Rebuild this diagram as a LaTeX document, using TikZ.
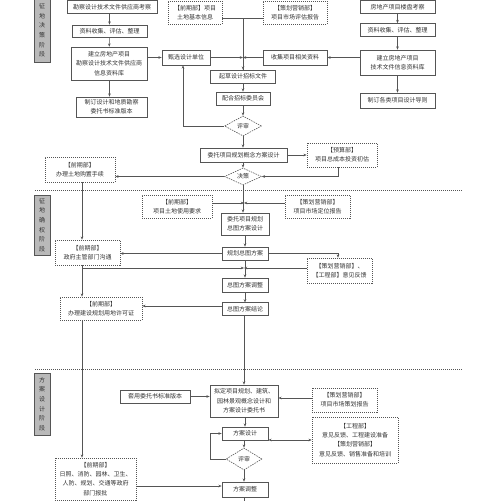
\documentclass[tikz,border=0pt]{standalone}
\usepackage{fontspec}
\setmainfont{Noto Sans CJK SC}
\usetikzlibrary{arrows.meta,shapes.geometric}
\definecolor{ln}{HTML}{555555}
\definecolor{tx}{HTML}{333333}
\tikzset{
  base/.style={font=\fontsize{6}{9.3}\selectfont, text=tx, align=center, inner sep=0pt},
  sbox/.style={base, draw=ln, line width=0.7pt, fill=white},
  dbox/.style={base, draw=ln, line width=0.6pt, dash pattern=on 1pt off 1pt, fill=white},
  gbox/.style={base, draw=ln, line width=0.7pt, fill=gray!55, minimum width=16pt, font=\fontsize{6}{9.6}\selectfont},
  dia/.style={base, diamond, draw=ln, line width=0.6pt, dash pattern=on 1.5pt off 1pt, aspect=2, fill=white},
  arr/.style={draw=ln, line width=0.6pt, -{Stealth[length=3.2pt,width=2.6pt]}},
  ln/.style={draw=ln, line width=0.6pt},
  sep/.style={draw=ln, line width=0.8pt, dash pattern=on 1pt off 1pt},
}
\begin{document}
\begin{tikzpicture}[x=1pt,y=-1pt]
\useasboundingbox (0,0) rectangle (500,501);
% stage boxes
\node[gbox, minimum height=63pt] (g1) at (42,30.5) {征\\地\\决\\策\\阶\\段};
\node[gbox, minimum height=60pt] (g2) at (42,225) {征\\地\\确\\权\\阶\\段};
\node[gbox, minimum height=62pt] (g3) at (42,404) {方\\案\\设\\计\\阶\\段};
% separators
\coordinate (s1a) at (35,190); \coordinate (s1b) at (462,190);
\coordinate (s2a) at (35,369); \coordinate (s2b) at (462,369);
\draw[sep] (s1a) -- (s1b);
\draw[sep] (s2a) -- (s2b);
% left column top
\node[sbox, minimum width=90pt, minimum height=13pt] (a1) at (112,7) {勘察设计技术文件供应商考察};
\node[sbox, minimum width=75pt, minimum height=12pt] (a2) at (109.5,31) {资料收集、评估、整理};
\node[sbox, minimum width=76pt, minimum height=33pt] (a3) at (109,63.5) {建立房地产项目\\勘察设计技术文件供应商\\信息资料库};
\node[sbox, minimum width=71pt, minimum height=20pt] (a4) at (111.5,107) {制订设计和地质勘察\\委托书标准版本};
% right column top
\node[sbox, minimum width=75pt, minimum height=13pt] (b1) at (397.5,7) {房地产项目楼盘考察};
\node[sbox, minimum width=75pt, minimum height=13pt] (b2) at (397.5,30) {资料收集、评估、整理};
\node[sbox, minimum width=75pt, minimum height=25pt] (b3) at (397.5,62.5) {建立房地产项目\\技术文件信息资料库};
\node[sbox, minimum width=75pt, minimum height=15pt] (b4) at (397.5,100.5) {制订各类项目设计导则};
% centre top
\node[dbox, minimum width=54pt, minimum height=23pt] (d1) at (195,12.5) {【前期部】项目\\土地基本信息};
\node[dbox, minimum width=64pt, minimum height=23pt] (d2) at (295,12.5) {【策划营销部】\\项目市场评估报告};
\node[sbox, minimum width=48pt, minimum height=15pt] (c1) at (186,57.5) {甄选设计单位};
\node[sbox, minimum width=64pt, minimum height=15pt] (c2) at (295,57.5) {收集项目相关资料};
\node[sbox, minimum width=65pt, minimum height=13pt] (c3) at (243,76.5) {起草设计招标文件};
\node[sbox, minimum width=54pt, minimum height=13pt] (c4) at (243,98.5) {配合招标委员会};
\node[dia, minimum width=37pt, minimum height=20pt] (m1) at (243,126) {评审};
\node[sbox, minimum width=87pt, minimum height=14pt] (c5) at (243.5,155) {委托项目规划概念方案设计};
\node[dbox, minimum width=70pt, minimum height=24pt] (d3) at (342,155) {【预算部】\\项目总成本投资初估};
\node[dia, minimum width=37pt, minimum height=17pt] (m2) at (243,176.5) {决策};
\node[dbox, minimum width=70pt, minimum height=25pt] (d4) at (80,169.5) {【前期部】\\办理土地购置手续};
% section 2
\node[dbox, minimum width=70pt, minimum height=23pt] (d5) at (177,206.5) {【前期部】\\项目土地使用要求};
\node[dbox, minimum width=65pt, minimum height=23pt] (d6) at (317.5,206.5) {【策划营销部】\\项目市场定位报告};
\node[sbox, minimum width=48pt, minimum height=22pt] (e1) at (245,224) {委托项目规划\\总图方案设计};
\node[sbox, minimum width=46pt, minimum height=13pt] (e2) at (245,253.5) {规划总图方案};
\node[dbox, minimum width=65pt, minimum height=25pt] (d7) at (87.5,252.5) {【前期部】\\政府主管部门沟通};
\node[dbox, minimum width=65pt, minimum height=25pt] (d8) at (339.5,270.5) {【策划营销部】、\\【工程部】意见反馈};
\node[sbox, minimum width=46pt, minimum height=14pt] (e3) at (245,285) {总图方案调整};
\node[sbox, minimum width=46pt, minimum height=12.5pt] (e4) at (245,309) {总图方案结论};
\node[dbox, minimum width=82pt, minimum height=23pt] (d9) at (101,308.5) {【前期部】\\办理建设规划用地许可证};
% section 3
\node[sbox, minimum width=70pt, minimum height=13pt] (f0) at (155,396.5) {套用委托书标准版本};
\node[sbox, minimum width=68pt, minimum height=32pt] (f1) at (244,401) {拟定项目规划、建筑、\\园林景观概念设计和\\方案设计委托书};
\node[dbox, minimum width=65pt, minimum height=24pt] (d10) at (344.5,400) {【策划营销部】\\项目市场策划报告};
\node[sbox, minimum width=46pt, minimum height=13pt] (f2) at (245,433.5) {方案设计};
\node[dbox, minimum width=86pt, minimum height=46pt] (d11) at (355,440) {【工程部】\\意见反馈、工程建设准备\\【策划营销部】\\意见反馈、销售准备和培训};
\node[dia, minimum width=36pt, minimum height=22pt] (m3) at (244,459) {评审};
\node[sbox, minimum width=46pt, minimum height=15pt] (f3) at (245,489.5) {方案调整};
\node[dbox, minimum width=81pt, minimum height=42pt] (d12) at (95.5,479) {【前期部】\\日照、消防、园林、卫生、\\人防、规划、交通等政府\\部门报批};
% helper coordinates
\coordinate (L) at (82,0);
\coordinate (jA) at (243,57.5);
\coordinate (jB) at (244,203);
\coordinate (jC) at (244,268);
\coordinate (loop1) at (183,126);
\coordinate (loop3) at (210,459);
\coordinate (endB) at (244,505);
% connectors top
\draw[arr] (a1.south -| a2) -- (a2.north);
\draw[arr] (a2) -- (a3);
\draw[arr] (a3.south -| a2) -- (a4.north -| a2);
\draw[arr] (b1) -- (b2);
\draw[arr] (b2) -- (b3);
\draw[arr] (b3) -- (b4);
\draw[arr] (a3.east |- c1) -- (c1.west);
\draw[arr] (b3.west |- c2) -- (c2.east);
\draw[ln] (d1.east |- 0,18) -| (c3.north -| jA);
\draw[ln] (d2.west |- 0,18) -- (jA |- 0,18);
\draw[arr] (jA |- 0,65) -- (c3.north -| jA);
\draw[arr] (c1.east) -- (jA);
\draw[arr] (c2.west) -- (jA);
\draw[arr] (c3) -- (c4);
\draw[arr] (c4) -- (m1);
\draw[arr] (m1.west) -- (loop1) -- (c1.south -| loop1);
\draw[arr] (m1) -- (c5.north -| m1);
\draw[arr] (c5.east) -- (d3.west);
\draw[arr] (d3.south -| 338,0) |- (m2.east);
\draw[arr] (m2.west) -- (d4.east |- m2);
\draw[arr] (c5.south -| m2) -- (m2.north);
\draw[arr] (m2.south) -- (e1.north -| m2);
% section 2
\draw[arr] (d4.south -| L) -- (d7.north -| L);
\draw[arr] (d5.east |- jB) -- (jB);
\draw[arr] (d6.west |- jB) -- (jB);
\draw[arr] (e1) -- (e2);
\draw[arr] (e2.east) -| (d8.north -| 338,0);
\draw[arr] (e2.west) -- (d7.east |- e2);
\draw[arr] (L |- jC) -- (jC);
\draw[arr] (d8.west |- jC) -- (jC);
\draw[arr] (e2) -- (e3);
\draw[arr] (e3) -- (e4);
\draw[arr] (e4.west |- 0,306) -- (d9.east |- 0,306);
\draw[arr] (d7.south -| L) -- (d9.north -| L);
\draw[arr] (d9.south -| L) -- (d12.north -| L);
\draw[arr] (e4.south -| f1) -- (f1.north);
% section 3
\draw[arr] (f0.east) -- (f1.west |- f0);
\draw[arr] (d10.west |- 0,398) -- (f1.east |- 0,398);
\draw[arr] (f1.south -| f2) -- (f2.north);
\draw[arr, {Stealth[length=3.2pt,width=2.6pt]}-{Stealth[length=3.2pt,width=2.6pt]}] (f2.east |- 0,440) -- (d11.west |- 0,440);
\draw[arr] (f2.south -| m3) -- (m3.north);
\draw[arr] (m3.west) -- (loop3) |- (f2.west);
\draw[arr] (m3.south) -- (f3.north -| m3);
\draw[arr] (d12.east |- 0,486) -- (f3.west |- 0,486);
\draw[ln] (f3.south -| m3) -- (endB);
\end{tikzpicture}
\end{document}
